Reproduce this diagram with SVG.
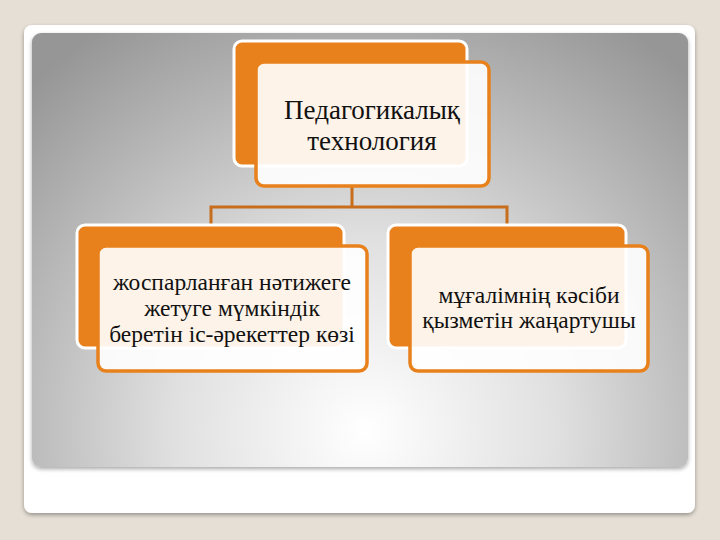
<svg xmlns="http://www.w3.org/2000/svg" width="720" height="540" viewBox="0 0 720 540">
<defs>
<radialGradient id="pg" gradientUnits="userSpaceOnUse" cx="365" cy="430" r="480">
<stop offset="0" stop-color="#ffffff"/>
<stop offset="0.4" stop-color="#e0e0e0"/>
<stop offset="1" stop-color="#969696"/>
</radialGradient>
<filter id="sh" x="-5%" y="-5%" width="110%" height="110%">
<feGaussianBlur in="SourceAlpha" stdDeviation="2"/>
<feOffset dx="0" dy="2"/>
<feComponentTransfer><feFuncA type="linear" slope="0.35"/></feComponentTransfer>
<feMerge><feMergeNode/><feMergeNode in="SourceGraphic"/></feMerge>
</filter>
<style>
.back{fill:#E8811B;stroke:#ffffff;stroke-width:3}
.front{fill:#ffffff;fill-opacity:0.9;stroke:#E8811B;stroke-width:3.5}
.conn{fill:none;stroke:#C76D1C;stroke-width:3}
</style>
</defs>
<rect width="720" height="540" fill="#E5DFD5"/>
<rect x="24" y="25" width="671" height="488" rx="8" fill="#ffffff" filter="url(#sh)"/>
<rect x="32" y="33" width="656" height="434" rx="9" fill="url(#pg)" filter="url(#sh)"/>
<g id="connectors">
<path class="conn" d="M352 187 V207 M211 207 H507 M211 205.5 V225 M507 205.5 V225"/>
</g>
<g id="node-top">
<rect class="back" x="234" y="41" width="233" height="125" rx="8"/>
<rect class="front" x="256" y="62" width="233" height="124" rx="8"/>
<g font-family="'Liberation Serif', 'Times New Roman', serif" font-size="27" fill="#111" text-anchor="middle">
<text x="372" y="119">Педагогикалық</text>
<text x="372" y="150">технология</text>
</g>
</g>
<g id="node-left">
<rect class="back" x="77" y="225" width="267" height="123" rx="8"/>
<rect class="front" x="98" y="246" width="269" height="125" rx="8"/>
<g font-family="'Liberation Serif', 'Times New Roman', serif" font-size="23.5" fill="#111" text-anchor="middle">
<text x="232" y="290">жоспарланған нәтижеге</text>
<text x="232" y="316">жетуге мүмкіндік</text>
<text x="232" y="342">беретін іс-әрекеттер көзі</text>
</g>
</g>
<g id="node-right">
<rect class="back" x="388" y="225" width="238" height="123" rx="8"/>
<rect class="front" x="410" y="246" width="238" height="125" rx="8"/>
<g font-family="'Liberation Serif', 'Times New Roman', serif" font-size="23.5" fill="#111" text-anchor="middle">
<text x="529" y="303">мұғалімнің кәсіби</text>
<text x="529" y="328">қызметін жаңартушы</text>
</g>
</g>
</svg>
